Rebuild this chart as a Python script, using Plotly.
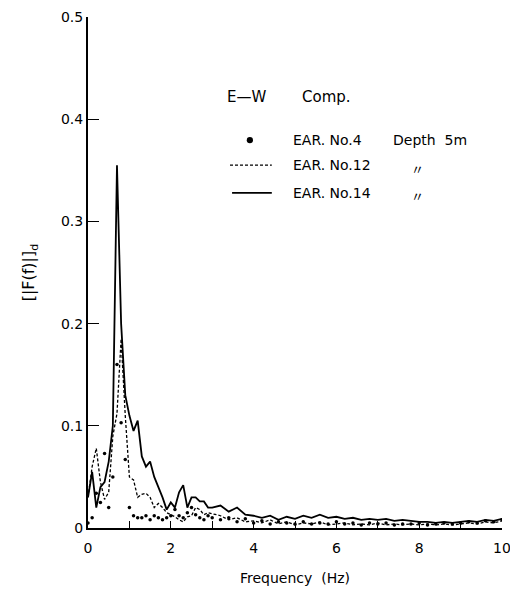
import numpy as np
import plotly.graph_objects as go

# Frequency grid (Hz): 0.1 Hz steps up to 3 Hz, 0.2 Hz steps above
freq = np.concatenate([np.round(np.arange(0.0, 3.01, 0.1), 1),
                       np.round(np.arange(3.2, 10.01, 0.2), 1)])

# EAR. No.4 (dots)
ear4 = [0.005, 0.010, 0.034, 0.025, 0.073, 0.020, 0.050, 0.160, 0.103, 0.067,
        0.020, 0.012, 0.010, 0.010, 0.012, 0.008, 0.012, 0.010, 0.008, 0.010,
        0.012, 0.018, 0.012, 0.010, 0.015, 0.020, 0.013, 0.010, 0.008, 0.012,
        0.010,
        0.008, 0.010, 0.006, 0.009, 0.005, 0.007, 0.004, 0.006, 0.005, 0.004,
        0.006, 0.004, 0.005, 0.004, 0.006, 0.004, 0.005, 0.003, 0.005, 0.004,
        0.005, 0.003, 0.004, 0.004, 0.005, 0.003, 0.004, 0.005, 0.004, 0.005,
        0.006, 0.005, 0.007, 0.006, 0.008]

# EAR. No.12 (dashed)
ear12 = [0.030, 0.060, 0.078, 0.045, 0.028, 0.035, 0.090, 0.112, 0.185, 0.110,
         0.050, 0.047, 0.030, 0.033, 0.034, 0.030, 0.020, 0.024, 0.020, 0.015,
         0.013, 0.011, 0.008, 0.006, 0.011, 0.012, 0.020, 0.018, 0.013, 0.015,
         0.014,
         0.012, 0.008, 0.010, 0.006, 0.007, 0.005, 0.008, 0.004, 0.006, 0.003,
         0.005, 0.004, 0.006, 0.003, 0.004, 0.005, 0.003, 0.004, 0.003, 0.005,
         0.003, 0.004, 0.003, 0.004, 0.003, 0.004, 0.003, 0.004, 0.003, 0.004,
         0.005, 0.004, 0.006, 0.005, 0.007]

# EAR. No.14 (solid)
ear14 = [0.030, 0.055, 0.020, 0.040, 0.045, 0.065, 0.100, 0.355, 0.200, 0.130,
         0.110, 0.095, 0.105, 0.070, 0.060, 0.065, 0.050, 0.040, 0.030, 0.018,
         0.025, 0.020, 0.035, 0.042, 0.020, 0.030, 0.030, 0.026, 0.026, 0.020,
         0.020,
         0.022, 0.016, 0.020, 0.013, 0.012, 0.010, 0.012, 0.008, 0.011, 0.009,
         0.012, 0.010, 0.013, 0.010, 0.011, 0.009, 0.010, 0.008, 0.009, 0.008,
         0.009, 0.007, 0.008, 0.007, 0.006, 0.006, 0.005, 0.006, 0.005, 0.006,
         0.007, 0.006, 0.008, 0.007, 0.009]

x_ticks = [0, 2, 4, 6, 8, 10]
x_labels = ["0", "2", "4", "6", "8", "10"]
y_ticks = [0, 0.1, 0.2, 0.3, 0.4, 0.5]
y_labels = ["0", "0.1", "0.2", "0.3", "0.4", "0.5"]

FONT = "DejaVu Sans"
INK = "black"

fig = go.Figure()
fig.add_trace(go.Scatter(x=freq, y=ear12, mode="lines",
                         line=dict(color=INK, width=1.3, dash="3px,2px"),
                         showlegend=False))
fig.add_trace(go.Scatter(x=freq, y=ear4, mode="markers",
                         marker=dict(color=INK, size=3.5),
                         showlegend=False))
fig.add_trace(go.Scatter(x=freq, y=ear14, mode="lines",
                         line=dict(color=INK, width=1.8),
                         showlegend=False))

fig.update_xaxes(range=[0, 10], tickvals=x_ticks, ticktext=x_labels,
                 ticks="inside", ticklen=7, tickwidth=1.2, tickcolor=INK,
                 ticklabeloverflow="allow", automargin=False, ticklabelstandoff=6,
                 minor=dict(dtick=1, ticks="inside", ticklen=7, tickwidth=1.2, tickcolor=INK),
                 showline=True, linecolor=INK, linewidth=2, showgrid=False,
                 zeroline=False, tickfont=dict(family=FONT, size=14, color=INK),
                 title=dict(text="Frequency  (Hz)", standoff=18,
                            font=dict(family=FONT, size=14, color=INK)))
fig.update_yaxes(range=[0, 0.5], tickvals=y_ticks, ticktext=y_labels,
                 ticks="inside", ticklen=11, tickwidth=1.2, tickcolor=INK,
                 ticklabeloverflow="allow", automargin=False,
                 showline=True, linecolor=INK, linewidth=2, showgrid=False,
                 zeroline=False, tickfont=dict(family=FONT, size=14, color=INK),
                 title=dict(text="[|F(f)|]<sub>d</sub>", standoff=22,
                            font=dict(family=FONT, size=16, color=INK)))

def note(text, x, y, size=14, xanchor="left", family=FONT):
    fig.add_annotation(text=text, x=x, y=y, xref="paper", yref="paper",
                       xanchor=xanchor, yanchor="middle", showarrow=False,
                       font=dict(family=family, size=size, color=INK))

# key block
note("E—W", 0.330, 0.843, size=15)
note("Comp.", 0.512, 0.843, size=15)

note("EAR. No.4", 0.490, 0.759)
note("Depth  5m", 0.733, 0.759)
note("EAR. No.12", 0.490, 0.710)
note("〃", 0.797, 0.704, size=13, xanchor="center", family="Noto Sans CJK JP")
note("EAR. No.14", 0.490, 0.656)
note("〃", 0.797, 0.650, size=13, xanchor="center", family="Noto Sans CJK JP")

fig.add_shape(type="circle", xref="paper", yref="paper",
              x0=0.391 - 0.0075, x1=0.391 + 0.0075, y0=0.759 - 0.006, y1=0.759 + 0.006,
              fillcolor=INK, line=dict(color=INK, width=0))
fig.add_shape(type="line", xref="paper", yref="paper", x0=0.343, x1=0.444,
              y0=0.710, y1=0.710, line=dict(color=INK, width=1.3, dash="3px,2px"))
fig.add_shape(type="line", xref="paper", yref="paper", x0=0.348, x1=0.444,
              y0=0.656, y1=0.656, line=dict(color=INK, width=1.8))

fig.update_layout(width=510, height=593, margin=dict(l=88, r=8, t=17, b=65),
                  plot_bgcolor="white", paper_bgcolor="white")

fig.write_html("out.html")
